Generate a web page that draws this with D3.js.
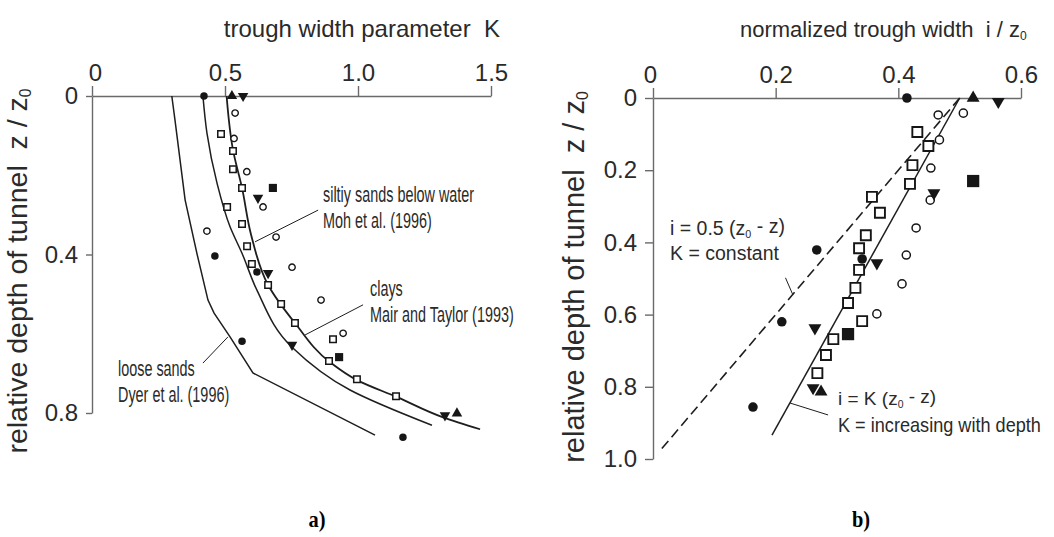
<!DOCTYPE html>
<html>
<head>
<meta charset="utf-8">
<script src="https://cdn.jsdelivr.net/npm/d3@7"></script>
<style>
  body { margin: 0; background: #fff; }
  svg text { font-family: "Liberation Sans", Arial, sans-serif; fill: #2a2a2a; white-space: pre; }
</style>
</head>
<body>
<svg id="chart"></svg>
<script>
// Chart size
const width = 1054;
const height = 537;

// ---- panel a) : trough width parameter K against relative depth z/z0 ----
const kTicks = [0, 0.5, 1.0, 1.5];
const depthTicksA = [0, 0.4, 0.8];

// curves, [K, z/z0]
const looseSands = [[0.30, 0], [0.312, 0.061], [0.35, 0.262], [0.395, 0.399], [0.436, 0.515],
  [0.459, 0.548], [0.519, 0.608], [0.605, 0.699], [1.064, 0.856]];
const siltySands = [[0.417, 0], [0.432, 0.093], [0.47, 0.22], [0.519, 0.33], [0.564, 0.397],
  [0.62, 0.49], [0.752, 0.634], [0.97, 0.742], [1.278, 0.831]];
const clays = [[0.506, 0], [0.53, 0.136], [0.564, 0.232], [0.598, 0.35], [0.662, 0.477],
  [0.763, 0.573], [0.895, 0.672], [0.996, 0.717], [1.147, 0.76], [1.32, 0.811], [1.459, 0.841]];

// measured points, [K, z/z0]
const aFilledCircle = [[0.421, 0], [0.462, 0.404], [0.62, 0.444], [0.564, 0.619], [1.169, 0.861]];
const aOpenCircle = [[0.538, 0.043], [0.534, 0.107], [0.582, 0.191], [0.643, 0.28], [0.432, 0.341],
  [0.692, 0.356], [0.752, 0.432], [0.861, 0.515], [0.944, 0.599]];
const aOpenSquare = [[0.485, 0.096], [0.53, 0.139], [0.53, 0.185], [0.564, 0.232], [0.508, 0.28],
  [0.564, 0.323], [0.583, 0.379], [0.601, 0.424], [0.662, 0.477], [0.711, 0.525], [0.763, 0.573],
  [0.906, 0.614], [0.891, 0.669], [0.996, 0.715], [1.143, 0.758]];
const aFilledSquare = [[0.68, 0.232], [0.929, 0.659]];
const aUpTriangle = [[0.526, 0], [1.372, 0.801]];
const aDownTriangle = [[0.568, 0], [0.624, 0.257], [0.662, 0.447], [0.752, 0.628], [1.327, 0.806]];

// leader lines for the curve labels
const aLeaders = [
  [[0.85, 0.288], [0.613, 0.368]],
  [[1.019, 0.527], [0.801, 0.603]],
  [[0.417, 0.674], [0.511, 0.608]]
];

// ---- panel b) : normalized trough width i/z0 against relative depth ----
const widthTicks = [0, 0.2, 0.4, 0.6];
const depthTicksB = [0, 0.2, 0.4, 0.6, 0.8, 1.0];

// lines, [i/z0, z/z0]
const constantK = [[0.5, 0], [0.01, 0.98]];
const increasingK = [[0.5, 0], [0.194, 0.934]];

const bFilledCircle = [[0.414, 0], [0.267, 0.421], [0.341, 0.446], [0.21, 0.62], [0.163, 0.856]];
const bOpenCircle = [[0.465, 0.047], [0.506, 0.042], [0.467, 0.116], [0.453, 0.194], [0.452, 0.283],
  [0.429, 0.36], [0.413, 0.435], [0.406, 0.515], [0.365, 0.598]];
const bOpenSquare = [[0.431, 0.094], [0.449, 0.133], [0.423, 0.186], [0.419, 0.238], [0.357, 0.274],
  [0.37, 0.318], [0.347, 0.38], [0.336, 0.416], [0.336, 0.476], [0.33, 0.526], [0.318, 0.568],
  [0.341, 0.618], [0.294, 0.668], [0.282, 0.712], [0.268, 0.762]];
const bFilledSquare = [[0.522, 0.23], [0.318, 0.654]];
const bUpTriangle = [[0.522, 0], [0.274, 0.814]];
const bDownTriangle = [[0.563, 0.01], [0.458, 0.263], [0.365, 0.457], [0.264, 0.637], [0.261, 0.803]];

const bLeaders = [
  [[0.216, 0.498], [0.228, 0.545]],
  [[0.2235, 0.845], [0.2855, 0.878]]
];

// Visual constants
const AXIS_COLOR = '#6a6a6a';
const LINE_COLOR = '#1e1e1e';
const MARK_COLOR = '#161616';
const TICK_FONT = 24;

const svg = d3.select('#chart')
  .attr('width', width)
  .attr('height', height)
  .attr('viewBox', [0, 0, width, height]);

// scales
const xA = d3.scaleLinear().domain([0, 1.5]).range([92, 491]);
const yA = d3.scaleLinear().domain([0, 0.8]).range([96, 413]);
const xB = d3.scaleLinear().domain([0, 0.6]).range([653, 1021]);
const yB = d3.scaleLinear().domain([0, 1.0]).range([98, 459]);

const fmt = d => d === 0 ? '0' : d3.format('.1f')(d);

function drawAxes(x, y, xTicks, yTicks, yTickSize, zeroShift) {
  const gx = svg.append('g')
    .attr('transform', `translate(0,${y(0)})`)
    .call(d3.axisTop(x).tickValues(xTicks).tickFormat(fmt)
      .tickSize(10).tickSizeOuter(0).tickPadding(5));
  const gy = svg.append('g')
    .attr('transform', `translate(${x(0)},0)`)
    .call(d3.axisLeft(y).tickValues(yTicks).tickFormat(fmt)
      .tickSize(yTickSize).tickSizeOuter(0).tickPadding(8));
  [gx, gy].forEach(g => {
    g.selectAll('path, line').attr('stroke', AXIS_COLOR).attr('stroke-width', 1.4);
    g.selectAll('text').attr('font-size', TICK_FONT).attr('fill', '#2a2a2a')
      .attr('font-family', '"Liberation Sans", Arial, sans-serif');
  });
  // the zero label sits a little off its tick in the original
  gx.selectAll('.tick text').filter(d => d === 0).attr('dx', zeroShift);
}

drawAxes(xA, yA, kTicks, depthTicksA, 6, 3);
drawAxes(xB, yB, widthTicks, depthTicksB, 8, -3);

// curves
function drawLine(data, x, y, curve, dash, w) {
  svg.append('path')
    .datum(data)
    .attr('fill', 'none')
    .attr('stroke', LINE_COLOR)
    .attr('stroke-width', w)
    .attr('stroke-dasharray', dash)
    .attr('d', d3.line().x(d => x(d[0])).y(d => y(d[1])).curve(curve));
}

drawLine(looseSands, xA, yA, d3.curveLinear, null, 1.5);
drawLine(siltySands, xA, yA, d3.curveMonotoneY, null, 1.5);
drawLine(clays, xA, yA, d3.curveMonotoneY, null, 1.8);
drawLine(constantK, xB, yB, d3.curveLinear, '10,5', 1.6);
drawLine(increasingK, xB, yB, d3.curveLinear, null, 1.5);

aLeaders.forEach(l => drawLine(l, xA, yA, d3.curveLinear, null, 1));
bLeaders.forEach(l => drawLine(l, xB, yB, d3.curveLinear, null, 1));

// markers
function drawMarkers(data, x, y, type, size, filled, flip, strokeW) {
  svg.append('g')
    .selectAll('path')
    .data(data)
    .join('path')
      .attr('d', d3.symbol().type(type).size(size))
      .attr('transform', d => `translate(${x(d[0])},${y(d[1])})` + (flip ? ' rotate(180)' : ''))
      .attr('fill', filled ? MARK_COLOR : '#fff')
      .attr('stroke', MARK_COLOR)
      .attr('stroke-width', filled ? 0 : strokeW);
}

drawMarkers(aOpenSquare, xA, yA, d3.symbolSquare, 42, false, false, 1.5);
drawMarkers(aOpenCircle, xA, yA, d3.symbolCircle, 32, false, false, 1.4);
drawMarkers(aFilledSquare, xA, yA, d3.symbolSquare, 66, true, false, 0);
drawMarkers(aFilledCircle, xA, yA, d3.symbolCircle, 44, true, false, 0);
drawMarkers(aUpTriangle, xA, yA, d3.symbolTriangle, 48, true, false, 0);
drawMarkers(aDownTriangle, xA, yA, d3.symbolTriangle, 48, true, true, 0);

drawMarkers(bOpenSquare, xB, yB, d3.symbolSquare, 100, false, false, 1.9);
drawMarkers(bOpenCircle, xB, yB, d3.symbolCircle, 52, false, false, 1.5);
drawMarkers(bFilledSquare, xB, yB, d3.symbolSquare, 150, true, false, 0);
drawMarkers(bFilledCircle, xB, yB, d3.symbolCircle, 72, true, false, 0);
drawMarkers(bUpTriangle, xB, yB, d3.symbolTriangle, 72, true, false, 0);
drawMarkers(bDownTriangle, xB, yB, d3.symbolTriangle, 72, true, true, 0);

// titles
function subText(parent, main, sub, tail) {
  parent.append('tspan').text(main);
  parent.append('tspan').text(sub).attr('font-size', '0.55em').attr('dy', '0.25em');
  if (tail) parent.append('tspan').text(tail).attr('dy', '-0.25em');
}

svg.append('text').attr('x', 500).attr('y', 37).attr('text-anchor', 'end')
  .attr('font-size', 24).text('trough width parameter  K');

const tB = svg.append('text').attr('x', 740).attr('y', 37).attr('font-size', 22);
subText(tB, 'normalized trough width  i / z', '0');

const yLabA = svg.append('text').attr('transform', 'translate(27,271) rotate(-90)')
  .attr('text-anchor', 'middle').attr('font-size', 28.5);
subText(yLabA, 'relative depth of tunnel  z / z', '0');

const yLabB = svg.append('text').attr('transform', 'translate(584,277) rotate(-90)')
  .attr('text-anchor', 'middle').attr('font-size', 29);
subText(yLabB, 'relative depth of tunnel  z / z', '0');

// curve labels, panel a (condensed face)
function condensed(x, y, lines) {
  const t = svg.append('text')
    .attr('transform', `translate(${x},${y}) scale(0.67,1)`)
    .attr('font-size', 21.5)
    .attr('fill', '#1e1e1e');
  lines.forEach((s, i) => t.append('tspan').attr('x', 0).attr('dy', i ? 26 : 0).text(s));
}
condensed(323, 202, ['siltiy sands below water', 'Moh et al. (1996)']);
condensed(370, 296, ['clays', 'Mair and Taylor (1993)']);
condensed(118, 376, ['loose sands', 'Dyer et al. (1996)']);

// equations, panel b
const e1 = svg.append('text').attr('x', 670).attr('y', 235).attr('font-size', 19.5);
subText(e1, 'i = 0.5 (z', '0', ' - z)');
svg.append('text').attr('x', 670).attr('y', 260).attr('font-size', 19.5).text('K = constant');

const e2 = svg.append('text').attr('x', 838).attr('y', 405).attr('font-size', 19);
subText(e2, 'i = K (z', '0', ' - z)');
svg.append('text')
  .attr('transform', 'translate(838,432) scale(0.93,1)')
  .attr('font-size', 19.5).text('K = increasing with depth');

// panel letters (tall bold serif)
svg.selectAll('text.panel')
  .data([['a)', 317], ['b)', 861]])
  .join('text')
    .attr('class', 'panel')
    .attr('transform', d => `translate(${d[1]},527) scale(0.85,1)`)
    .attr('text-anchor', 'middle')
    .attr('font-size', 24).attr('font-weight', 'bold')
    .style('font-family', '"Liberation Serif", "Times New Roman", serif')
    .style('fill', '#000')
    .text(d => d[0]);
</script>
</body>
</html>
